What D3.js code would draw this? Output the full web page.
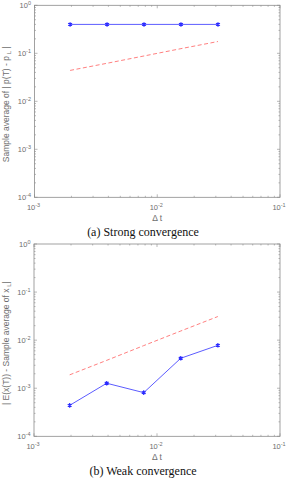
<!DOCTYPE html>
<html>
<head>
<meta charset="utf-8">
<script src="https://cdn.jsdelivr.net/npm/d3@7"></script>
<style>
    body { margin: 0; background: #fff; }
    svg { display: block; }
</style>
</head>
<body>
<div id="chart"></div>
<script>

// step sizes (shared by both panels)
const dtValues = [0.00195, 0.0039, 0.0078, 0.0156, 0.03125];

// (a) strong convergence
const strongError = [0.40, 0.40, 0.40, 0.40, 0.40];
const strongRef = [0.044, 0.062, 0.088, 0.125, 0.176];

// (b) weak convergence
const weakError = [0.00044, 0.00127, 0.00081, 0.0042, 0.0078];
const weakRef = [0.0019, 0.0038, 0.0077, 0.0155, 0.031];

const xTicks = [-3, -2, -1];
const yTicks = [0, -1, -2, -3, -4];

const panels = [
    { top: 5.3, bottom: 197.3, left: 34.5, right: 280,
      err: strongError, ref: strongRef,
      ylabel: ["Sample average of | p(T) - p", " L", " |"],
      caption: "(a) Strong convergence" },
    { top: 244, bottom: 436.3, left: 34, right: 280,
      err: weakError, ref: weakRef,
      ylabel: ["| E(x(T)) - Sample average of x", " L", "|"],
      caption: "(b) Weak convergence" }
];

const axisGrey = "#8a8a8a";
const textGrey = "#6e6e6e";

let svg = d3.select("#chart").append("svg")
    .attr("width", 288)
    .attr("height", 480)
    .style("font-family", "'Liberation Sans', Arial, sans-serif");

svg.append("rect").attr("width", 288).attr("height", 480).attr("fill", "#fff");

panels.forEach(p => drawPanel(p));

function drawPanel(p) {
    let g = svg.append("g");

    let x = d3.scaleLog().domain([1e-3, 1e-1]).range([p.left, p.right]);
    let y = d3.scaleLog().domain([1e-4, 1]).range([p.bottom, p.top]);

    // minor ticks (log spaced), drawn inward on all four sides
    let minorX = [], minorY = [];
    for (let e = -3; e < -1; e++) for (let k = 2; k <= 9; k++) minorX.push(k * Math.pow(10, e));
    for (let e = -4; e < 0; e++) for (let k = 2; k <= 9; k++) minorY.push(k * Math.pow(10, e));

    let tickG = g.append("g").attr("stroke", axisGrey).attr("stroke-width", 0.6);

    minorX.forEach(v => {
        tickG.append("line").attr("x1", x(v)).attr("x2", x(v)).attr("y1", p.bottom).attr("y2", p.bottom - 1.5);
        tickG.append("line").attr("x1", x(v)).attr("x2", x(v)).attr("y1", p.top).attr("y2", p.top + 1.5);
    });
    minorY.forEach(v => {
        tickG.append("line").attr("y1", y(v)).attr("y2", y(v)).attr("x1", p.left).attr("x2", p.left + 1.5);
        tickG.append("line").attr("y1", y(v)).attr("y2", y(v)).attr("x1", p.right).attr("x2", p.right - 1.5);
    });
    xTicks.forEach(e => {
        let v = Math.pow(10, e);
        tickG.append("line").attr("x1", x(v)).attr("x2", x(v)).attr("y1", p.bottom).attr("y2", p.bottom - 3);
        tickG.append("line").attr("x1", x(v)).attr("x2", x(v)).attr("y1", p.top).attr("y2", p.top + 3);
    });
    yTicks.forEach(e => {
        let v = Math.pow(10, e);
        tickG.append("line").attr("y1", y(v)).attr("y2", y(v)).attr("x1", p.left).attr("x2", p.left + 3);
        tickG.append("line").attr("y1", y(v)).attr("y2", y(v)).attr("x1", p.right).attr("x2", p.right - 3);
    });

    // box
    g.append("rect")
        .attr("x", p.left).attr("y", p.top)
        .attr("width", p.right - p.left).attr("height", p.bottom - p.top)
        .attr("fill", "none")
        .attr("stroke", axisGrey)
        .attr("stroke-width", 0.8);

    // tick labels
    yTicks.forEach(e => {
        let t = g.append("text")
            .attr("x", p.left - 3.5)
            .attr("y", y(Math.pow(10, e)) + 2.5)
            .attr("text-anchor", "end")
            .attr("fill", textGrey)
            .style("font-size", "7.5px");
        t.append("tspan").text("10");
        t.append("tspan").attr("dy", -3).style("font-size", "5.5px").text(e);
    });
    xTicks.forEach(e => {
        let t = g.append("text")
            .attr("x", x(Math.pow(10, e)) - 1)
            .attr("y", p.bottom + 12.5)
            .attr("text-anchor", "middle")
            .attr("fill", textGrey)
            .style("font-size", "7.5px");
        t.append("tspan").text("10");
        t.append("tspan").attr("dy", -3).style("font-size", "5.5px").text(e);
    });

    // x label
    g.append("text")
        .attr("x", (p.left + p.right) / 2)
        .attr("y", p.bottom + 24)
        .attr("text-anchor", "middle")
        .attr("fill", textGrey)
        .style("font-size", "8.5px")
        .text("\u0394 t");

    // y label
    let yl = g.append("text")
        .attr("transform", "translate(8.5," + ((p.top + p.bottom) / 2 + 3) + ") rotate(-90)")
        .attr("text-anchor", "middle")
        .attr("fill", textGrey)
        .style("font-size", "8.5px");
    yl.append("tspan").text(p.ylabel[0]);
    yl.append("tspan").attr("dy", 2).style("font-size", "6px").text(p.ylabel[1]);
    yl.append("tspan").attr("dy", -2).text(p.ylabel[2]);

    // caption
    g.append("text")
        .attr("x", 143)
        .attr("y", p.bottom + 39)
        .attr("text-anchor", "middle")
        .attr("fill", "#111")
        .style("font-family", "'Liberation Serif', 'Times New Roman', serif")
        .style("font-size", "12px")
        .text(p.caption);

    let line = d3.line()
        .x(d => x(d[0]))
        .y(d => y(d[1]));

    // reference slope (dashed red)
    g.append("path")
        .datum(dtValues.map((d, i) => [d, p.ref[i]]))
        .attr("d", line)
        .attr("fill", "none")
        .attr("stroke", "#ff8080")
        .attr("stroke-width", 1)
        .attr("stroke-dasharray", "4,2.5");

    // error curve (blue with asterisks)
    let pts = dtValues.map((d, i) => [d, p.err[i]]);
    g.append("path")
        .datum(pts)
        .attr("d", line)
        .attr("fill", "none")
        .attr("stroke", "#5c5cff")
        .attr("stroke-width", 1);

    let star = d3.symbol().type(d3.symbolAsterisk).size(14);
    g.selectAll(".mk")
        .data(pts)
        .enter()
        .append("path")
        .attr("transform", d => "translate(" + x(d[0]) + "," + y(d[1]) + ")")
        .attr("d", star)
        .attr("fill", "none")
        .attr("stroke", "#2a2aff")
        .attr("stroke-width", 1.2);
}
</script>
</body>
</html>
